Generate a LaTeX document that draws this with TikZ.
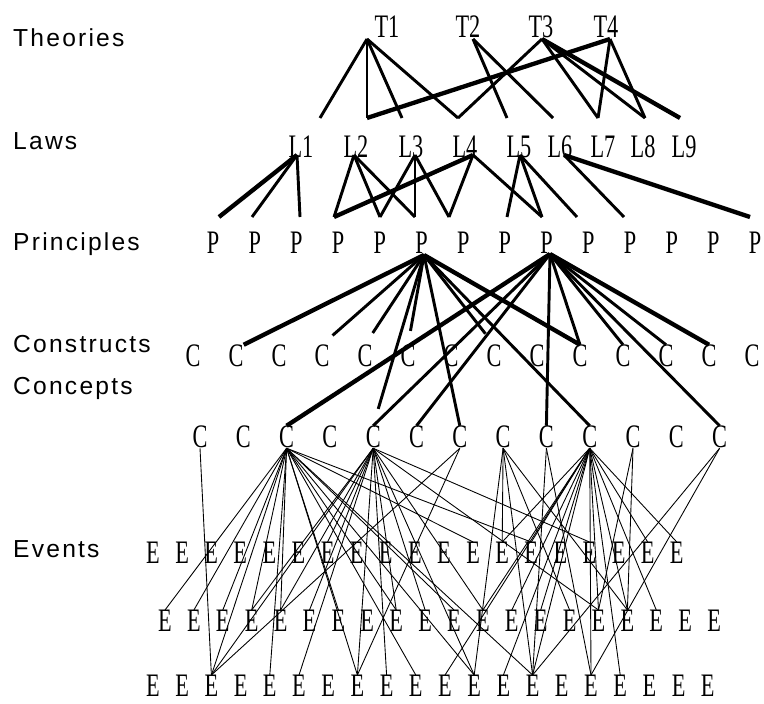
\documentclass[tikz,border=0pt]{standalone}
\usepackage{fontspec}
\setmainfont{Liberation Serif}
\newfontfamily\tagfont[LetterSpace=9]{Liberation Sans}
\newfontfamily\symfont[FakeStretch=0.68]{Liberation Serif}
\usetikzlibrary{positioning}

\tikzset{
  tag/.style={font=\tagfont\fontsize{21}{21}\selectfont, anchor=base west, inner sep=0pt},
  sym/.style={font=\symfont\fontsize{28}{28}\selectfont, inner sep=0pt},
  link/.style={line width=2.5pt},
  heavy/.style={line width=3.7pt},
  fine/.style={line width=0.75pt},
}

\begin{document}
\begin{tikzpicture}[x=0.03cm, y=-0.03cm]
\useasboundingbox (0,0) rectangle (764,703);

% level names
\node[tag] (theories)   at (13,47)  {Theories};
\node[tag] (laws)       at (13,149) {Laws};
\node[tag] (principles) at (13,250) {Principles};
\node[tag] (constructs) at (13,352) {Constructs};
\node[tag] (concepts)   at (13,394) {Concepts};
\node[tag] (events)     at (13,557) {Events};

% rows of symbols
\foreach \n/\x in {1/387,2/468,3/541,4/606}
  \node[sym] (T\n) at (\x,27) {T\n};
\foreach \n/\x in {1/301,2/356,3/411,4/465,5/519,6/560,7/603,8/643,9/684}
  \node[sym] (L\n) at (\x,147) {L\n};
\foreach \n in {1,...,14}
  \node[sym] (P\n) at ({213+41.7*(\n-1)},243) {P};
\foreach \n in {1,...,14}
  \node[sym] (Ca\n) at ({193+43*(\n-1)},356) {C};
\foreach \n in {1,...,13}
  \node[sym] (Cb\n) at ({200+43.3*(\n-1)},437) {C};
\foreach \n in {1,...,19}
  \node[sym] (Ea\n) at ({153+29.1*(\n-1)},553) {E};
\foreach \n in {1,...,20}
  \node[sym] (Eb\n) at ({165+28.9*(\n-1)},621) {E};
\foreach \n in {1,...,20}
  \node[sym] (Ec\n) at ({153+29.2*(\n-1)},686) {E};

% line ends
\foreach \n/\x in {1/367,2/473,3/542,4/610}
  \coordinate (t\n) at (\x,39);
\foreach \n/\x in {1/320,2/367,3/402,4/458,5/507,6/553,7/598,8/645,9/680}
  \coordinate (lt\n) at (\x,118);
\foreach \n/\x in {1/297,2/354,3/415,4/473,5/520,6/564}
  \coordinate (lb\n) at (\x,155);
\foreach \n/\x in {1/219,2/252,3/300,4/334,5/380,6/415,7/449,8/507,9/542,10/577,11/624,14/750}
  \coordinate (pt\n) at (\x,217);
\coordinate (pb6) at (424,255);
\coordinate (pb9) at (550,254);

% theories - laws
\foreach \a/\b in {1/1,1/2,1/3,1/4,2/5,2/6,3/4,3/7,3/8,4/7,4/8}
  \draw[link] (t\a) -- (lt\b);
\draw[heavy] (t3) -- (lt9);
\draw[heavy] (t4) -- (lt2);

% laws - principles
\foreach \a/\b in {1/2,1/3,2/4,2/5,2/6,3/5,3/6,3/7,4/7,4/9,5/8,5/9,5/10,6/11}
  \draw[link] (lb\a) -- (pt\b);
\draw[heavy] (lb1) -- (pt1);
\draw[heavy] (lb4) -- (pt4);
\draw[heavy] (lb6) -- (pt14);

% principles - constructs and concepts
\draw[heavy] (pb6) -- (Ca2.north east);
\foreach \c in {4,5,6,8}
  \draw[link, shorten >=12pt] (pb6) -- (Ca\c.north);
\draw[heavy] (pb6) -- (Ca10.north);
\draw[link, shorten >=15pt] (pb6) -- (Cb5.north);
\foreach \c in {7,10}
  \draw[link] (pb6) -- (Cb\c.north);
\draw[heavy] (pb9) -- (Cb3.north);
\foreach \c in {5,6,9,13}
  \draw[link] (pb9) -- (Cb\c.north);
\foreach \c in {10,11,12}
  \draw[link] (pb9) -- (Ca\c.north);
\draw[heavy] (pb9) -- (Ca13.north);

% concepts - events
\foreach \c/\e in {1/c3,
    3/b1,3/b2,3/b3,3/b4,3/b5,3/c3,3/c5,3/b7,3/c8,3/b9,3/c10,3/b11,3/a12,3/a14,3/c12,3/c14,
    5/c3,5/b4,5/b5,5/b6,5/c6,5/a7,5/c8,5/b9,5/c9,5/b10,5/b12,5/c12,5/b16,5/a16,
    7/c3,7/c8,
    8/a13,8/c12,8/c14,8/b15,8/b17,
    9/c14,9/c16,
    10/c11,10/c13,10/c14,10/c16,10/c17,10/a13,10/a14,10/b12,10/b13,10/b14,10/b16,10/b17,10/b18,10/a18,10/a19,
    11/b16,11/b17,
    13/c14,13/c16}
  \draw[fine] (Cb\c.south) -- (E\e.north);
\end{tikzpicture}
\end{document}
